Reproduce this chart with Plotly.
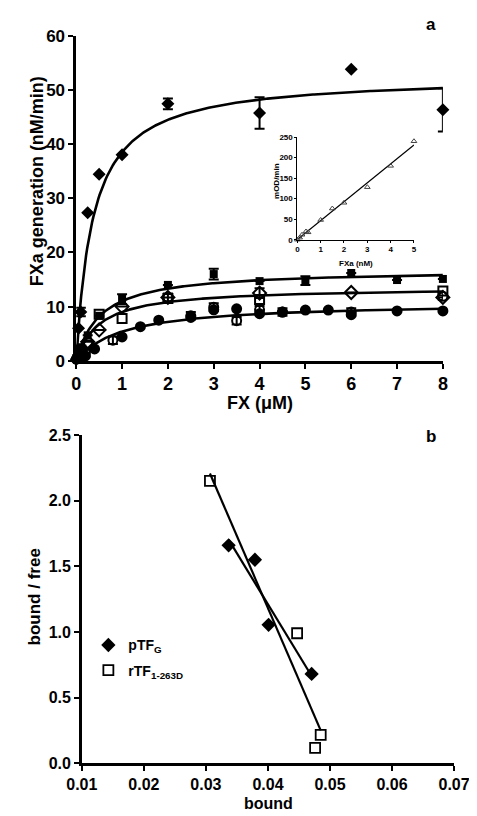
import numpy as np
import plotly.graph_objects as go

# ---------------- Panel a data ----------------
dia_x = [0, 0.05, 0.1, 0.25, 0.5, 1, 2, 4, 6, 8]
dia_y = [0.3, 6.0, 9.0, 27.3, 34.4, 38.0, 47.4, 45.7, 53.8, 46.3]
dia_e = [0, 0, 0.8, 0, 0, 0, 1.0, 2.9, 0, 4.0]

sq_x = [0, 0.05, 0.1, 0.25, 0.5, 1, 2, 3, 4, 5, 6, 7, 8]
sq_y = [0.5, 1.5, 2.5, 4.7, 8.3, 11.4, 14.0, 16.0, 14.7, 14.8, 16.2, 14.9, 15.1]
sq_e = [0, 0, 0, 0, 0, 0.9, 0, 1.0, 0, 0.8, 0, 0, 0]

osq_x = [0.05, 0.1, 0.25, 0.5, 1, 2, 4, 8]
osq_y = [1.0, 2.0, 2.9, 8.6, 7.8, 11.5, 11.3, 12.9]

odia_x = [0.1, 0.25, 0.5, 1, 2, 4, 6, 8]
odia_y = [1.5, 3.5, 5.7, 10.0, 11.7, 12.5, 12.6, 11.7]
odia_e = [0, 0, 0, 0, 0, 0.9, 0, 0]

circ_x = [0, 0.1, 0.2, 0.4, 1, 1.4, 1.8, 2.5, 3, 3.5, 4, 4.5, 5, 5.5, 6, 7, 8]
circ_y = [0.3, 0.8, 0.9, 2.2, 4.4, 6.3, 7.5, 8.0, 9.4, 9.6, 8.7, 9.0, 9.35, 9.35, 8.5, 9.2, 9.2]

ocirc_x = [0.2, 0.8, 2, 2.5, 3, 3.5, 4, 4.5, 6, 8]
ocirc_y = [1.5, 3.8, 11.7, 8.3, 9.9, 7.4, 9.4, 9.0, 9.0, 11.9]
ocirc_e = [0.7] * len(ocirc_x)

# Michaelis-Menten fit parameters (Vmax, Km)
fit_vmax = [52.6, 16.85, 13.6, 10.8]
fit_km = [0.366, 0.53, 0.51, 1.0]

# inset: standard curve
std_x = [0, 0.1, 0.2, 0.37, 0.46, 1.0, 1.5, 2.0, 3.0, 4.0, 5.0]
std_y = [0, 5, 12, 20, 18, 48, 76, 90, 128, 180, 240]

# ---------------- Panel b data ----------------
p_x = [0.03366, 0.0379, 0.0401, 0.04704]
p_y = [1.66, 1.55, 1.054, 0.68]
r_x = [0.03065, 0.0447, 0.0485, 0.0476]
r_y = [2.15, 0.99, 0.216, 0.117]

W, H = 477, 816
FONT = "Liberation Sans, Arial, sans-serif"

def px_x(v):
    return v / W

def px_y(v):
    return 1 - v / H

fig = go.Figure()

# curves
xf = np.linspace(0, 8, 300)
for vm, km in zip(fit_vmax, fit_km):
    fig.add_trace(go.Scatter(x=xf, y=vm * xf / (km + xf), mode="lines",
                             line=dict(color="black", width=2.6),
                             showlegend=False, xaxis="x", yaxis="y", hoverinfo="skip"))

def pts(x, y, sym, size, err=None, lw=2):
    d = dict(x=x, y=y, mode="markers", showlegend=False, xaxis="x", yaxis="y",
             cliponaxis=False,
             marker=dict(symbol=sym, size=size, color="black",
                         line=dict(color="black", width=lw)))
    if err is not None:
        d["error_y"] = dict(type="data", array=err, visible=True,
                            color="black", thickness=2, width=5)
    fig.add_trace(go.Scatter(**d))

pts(ocirc_x, ocirc_y, "circle-open", 9, ocirc_e)
pts(circ_x, circ_y, "circle", 9)
pts(odia_x, odia_y, "diamond-open", 10, odia_e)
pts(osq_x, osq_y, "square-open", 9)
pts(sq_x, sq_y, "square", 8, sq_e, lw=0)
pts(dia_x, dia_y, "diamond", 10, dia_e, lw=0)

# inset
coef = np.polyfit(std_x, std_y, 1)
xl = np.array([0, 5.0])
fig.add_trace(go.Scatter(x=xl, y=np.polyval(coef, xl), mode="lines",
                         line=dict(color="black", width=1.2), showlegend=False,
                         xaxis="x2", yaxis="y2"))
fig.add_trace(go.Scatter(x=std_x, y=std_y, mode="markers", showlegend=False,
                         xaxis="x2", yaxis="y2", cliponaxis=False,
                         marker=dict(symbol="triangle-up-open", size=5,
                                     color="#444", line=dict(width=1))))

# panel b
for xs, ys in [(p_x, p_y), (r_x, r_y)]:
    c = np.polyfit(xs, ys, 1)
    xr = np.array([min(xs), max(xs)])
    fig.add_trace(go.Scatter(x=xr, y=np.polyval(c, xr), mode="lines",
                             line=dict(color="black", width=2.2), showlegend=False,
                             xaxis="x3", yaxis="y3"))
fig.add_trace(go.Scatter(x=p_x, y=p_y, mode="markers", name="pTF<sub>G</sub>",
                         legendgroup="p", xaxis="x3", yaxis="y3",
                         marker=dict(symbol="diamond", size=11, color="black")))
fig.add_trace(go.Scatter(x=r_x, y=r_y, mode="markers", name="rTF<sub>1-263D</sub>",
                         legendgroup="r", xaxis="x3", yaxis="y3",
                         marker=dict(symbol="square-open", size=10, color="black",
                                     line=dict(width=1.8))))

def ax(domain, rng, dtick, anchor, fs, lw=2.5, tl=5, fmt=None):
    d = dict(domain=domain, range=rng, dtick=dtick, tick0=rng[0], anchor=anchor,
             showgrid=False, zeroline=False, showline=True, linecolor="black",
             linewidth=lw, ticks="outside", ticklen=tl, tickwidth=lw * 0.8,
             tickcolor="black",
             tickfont=dict(family=FONT, size=fs, color="black", weight="bold"))
    if fmt:
        d["tickformat"] = fmt
    return d

layout = dict(
    width=W, height=H, margin=dict(l=0, r=0, t=0, b=0),
    plot_bgcolor="white", paper_bgcolor="white",
    xaxis=ax([px_x(56), px_x(449)], [0, 8], 1, "y", 18),
    yaxis=ax([px_y(352), px_y(19)], [0, 60], 10, "x", 17),
    xaxis2=ax([px_x(293), px_x(418)], [0, 5], 1, "y2", 8, lw=1, tl=2),
    yaxis2=ax([px_y(228), px_y(123)], [0, 250], 50, "x2", 8, lw=1, tl=2),
    xaxis3=ax([px_x(62), px_x(461)], [0.01, 0.07], 0.01, "y3", 16, fmt=".2f"),
    yaxis3=ax([px_y(764), px_y(428)], [0, 2.5], 0.5, "x3", 16, fmt=".1f"),
    showlegend=True,
    legend=dict(x=px_x(69), y=px_y(627), xanchor="left", yanchor="top",
                bgcolor="rgba(0,0,0,0)", tracegroupgap=4,
                font=dict(family=FONT, size=14, color="black", weight="bold")),
)
fig.update_layout(**layout)

def note(text, x, y, size, angle=0, xa="center", ya="middle"):
    fig.add_annotation(text=text, x=px_x(x), y=px_y(y), xref="paper", yref="paper",
                       showarrow=False, textangle=angle, xanchor=xa, yanchor=ya,
                       font=dict(family=FONT, size=size, color="black", weight="bold"))

note("FXa generation (nM/min)", 14, 168, 18, angle=-90)
note("FX (\u03bcM)", 253, 395, 18)
note("a", 436, 8, 17)
note("mOD/min", 270, 168, 8, angle=-90)
note("FXa (nM)", 356, 252, 8)
note("bound / free", 11, 594, 17, angle=-90)
note("bound", 262, 805, 16)
note("b", 436, 429, 17)

fig.write_html("out.html")
